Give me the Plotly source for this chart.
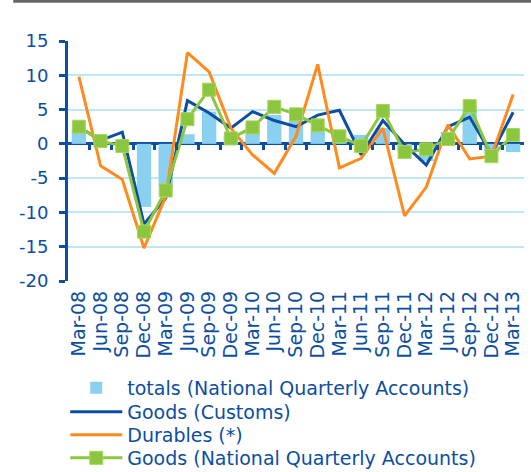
import plotly.graph_objects as go

quarters = ["Mar-08","Jun-08","Sep-08","Dec-08","Mar-09","Jun-09","Sep-09","Dec-09",
            "Mar-10","Jun-10","Sep-10","Dec-10","Mar-11","Jun-11","Sep-11","Dec-11",
            "Mar-12","Jun-12","Sep-12","Dec-12","Mar-13"]
totals_nqa = [2.0, 0.3, 0.0, -9.2, -6.2, 1.4, 4.7, 1.2, 3.0, 4.2, 3.5, 1.8, 0.5, 1.3, 2.3, -1.0,
              -2.5, 1.7, 5.0, -1.0, -1.2]
goods_customs = [2.5, 0.5, 1.7, -11.7, -7.9, 6.3, 4.5, 2.3, 4.7, 3.4, 2.5, 4.2, 4.9, -1.6, 3.4, -0.1,
                 -3.1, 2.5, 3.9, -1.5, 4.6]
durables = [9.8, -3.2, -5.2, -15.2, -7.7, 13.3, 10.5, 2.3, -1.6, -4.3, 1.1, 11.6, -3.5, -2.1, 2.3, -10.5,
            -6.3, 2.8, -2.2, -1.8, 7.2]
goods_nqa = [2.5, 0.4, -0.3, -12.8, -6.8, 3.6, 7.9, 0.8, 2.4, 5.4, 4.3, 2.7, 1.1, -0.3, 4.8, -1.2,
             -0.8, 0.7, 5.5, -1.8, 1.3]
y_ticks = [15, 10, 5, 0, -5, -10, -15, -20]
y_tick_text = ["15", "10", "5", "0", "-5", "-10", "-15", "-20"]

DARK = "#0b4ea2"
FONT = "DejaVu Sans"

fig = go.Figure()
fig.add_trace(go.Bar(x=quarters, y=totals_nqa, name="totals (National Quarterly Accounts)",
                     marker=dict(color="#8ad0f0", line=dict(width=0)), legend="legend"))
fig.add_trace(go.Scatter(x=quarters, y=goods_customs, name="Goods (Customs)", mode="lines",
                         line=dict(color=DARK, width=3), legend="legend2"))
fig.add_trace(go.Scatter(x=quarters, y=durables, name="Durables (*)", mode="lines",
                         line=dict(color="#ff8a1e", width=3), legend="legend3"))
fig.add_trace(go.Scatter(x=quarters, y=goods_nqa, name="Goods (National Quarterly Accounts)",
                         mode="lines+markers", line=dict(color="#8cc63f", width=3),
                         marker=dict(symbol="square", size=13, color="#8cc63f",
                                     line=dict(color="#a6d65c", width=1)), legend="legend4"))
# invisible trace to carry the zero-line tick axis
fig.add_trace(go.Scatter(x=[0], y=[0], xaxis="x2", yaxis="y", mode="markers",
                         marker=dict(opacity=0), showlegend=False, hoverinfo="skip"))

n = len(quarters)
ymin, ymax = min(y_ticks), max(y_ticks)
H = 472
row_centers = [388, 412, 435, 458]


def leg(yc):
    return dict(x=-0.006, y=1 - yc / H, xanchor="left", yanchor="middle", yref="container",
                orientation="v", font=dict(size=19, color=DARK, family=FONT),
                itemwidth=52, bgcolor="rgba(0,0,0,0)")


fig.update_layout(
    width=531, height=H,
    margin=dict(l=68, r=7, t=41, b=191, autoexpand=False),
    paper_bgcolor="white", plot_bgcolor="white",
    font=dict(family=FONT, color=DARK),
    bargap=0.34,
    showlegend=True,
    legend=leg(row_centers[0]),
    legend2=leg(row_centers[1]),
    legend3=leg(row_centers[2]),
    legend4=leg(row_centers[3]),
    xaxis=dict(type="category", categoryarray=quarters, range=[-0.5, n - 0.5],
               tickmode="array", tickvals=quarters, automargin=False, ticklabelstandoff=5,
               tickangle=-90, tickfont=dict(size=19, color=DARK), showline=False,
               showgrid=False, ticks="", zeroline=False),
    xaxis2=dict(overlaying="x", anchor="free", position=(0 - ymin) / (ymax - ymin),
                range=[-0.5, n - 0.5], tickvals=[i + 0.5 for i in range(n - 1)],
                ticks="outside", ticklen=5, tickwidth=3, tickcolor=DARK,
                showticklabels=False, showgrid=False, showline=False, zeroline=False, side="bottom"),
    yaxis=dict(range=[ymin, ymax], tickvals=y_ticks, ticktext=y_tick_text, automargin=False,
               tickfont=dict(size=18, color=DARK), ticklabelstandoff=7,
               showline=True, linecolor=DARK, linewidth=3, ticks="outside", ticklen=6,
               tickwidth=3, tickcolor=DARK, showgrid=True, gridcolor="#bde6f6", gridwidth=1.5,
               zeroline=True, zerolinecolor=DARK, zerolinewidth=3),
)
fig.add_shape(type="line", xref="paper", yref="paper", x0=-0.12, x1=1.02, y0=1.166, y1=1.166,
              line=dict(color="#666666", width=3))
fig.write_html("out.html", config={"displayModeBar": False},
               post_script="document.body.style.margin='0';")
